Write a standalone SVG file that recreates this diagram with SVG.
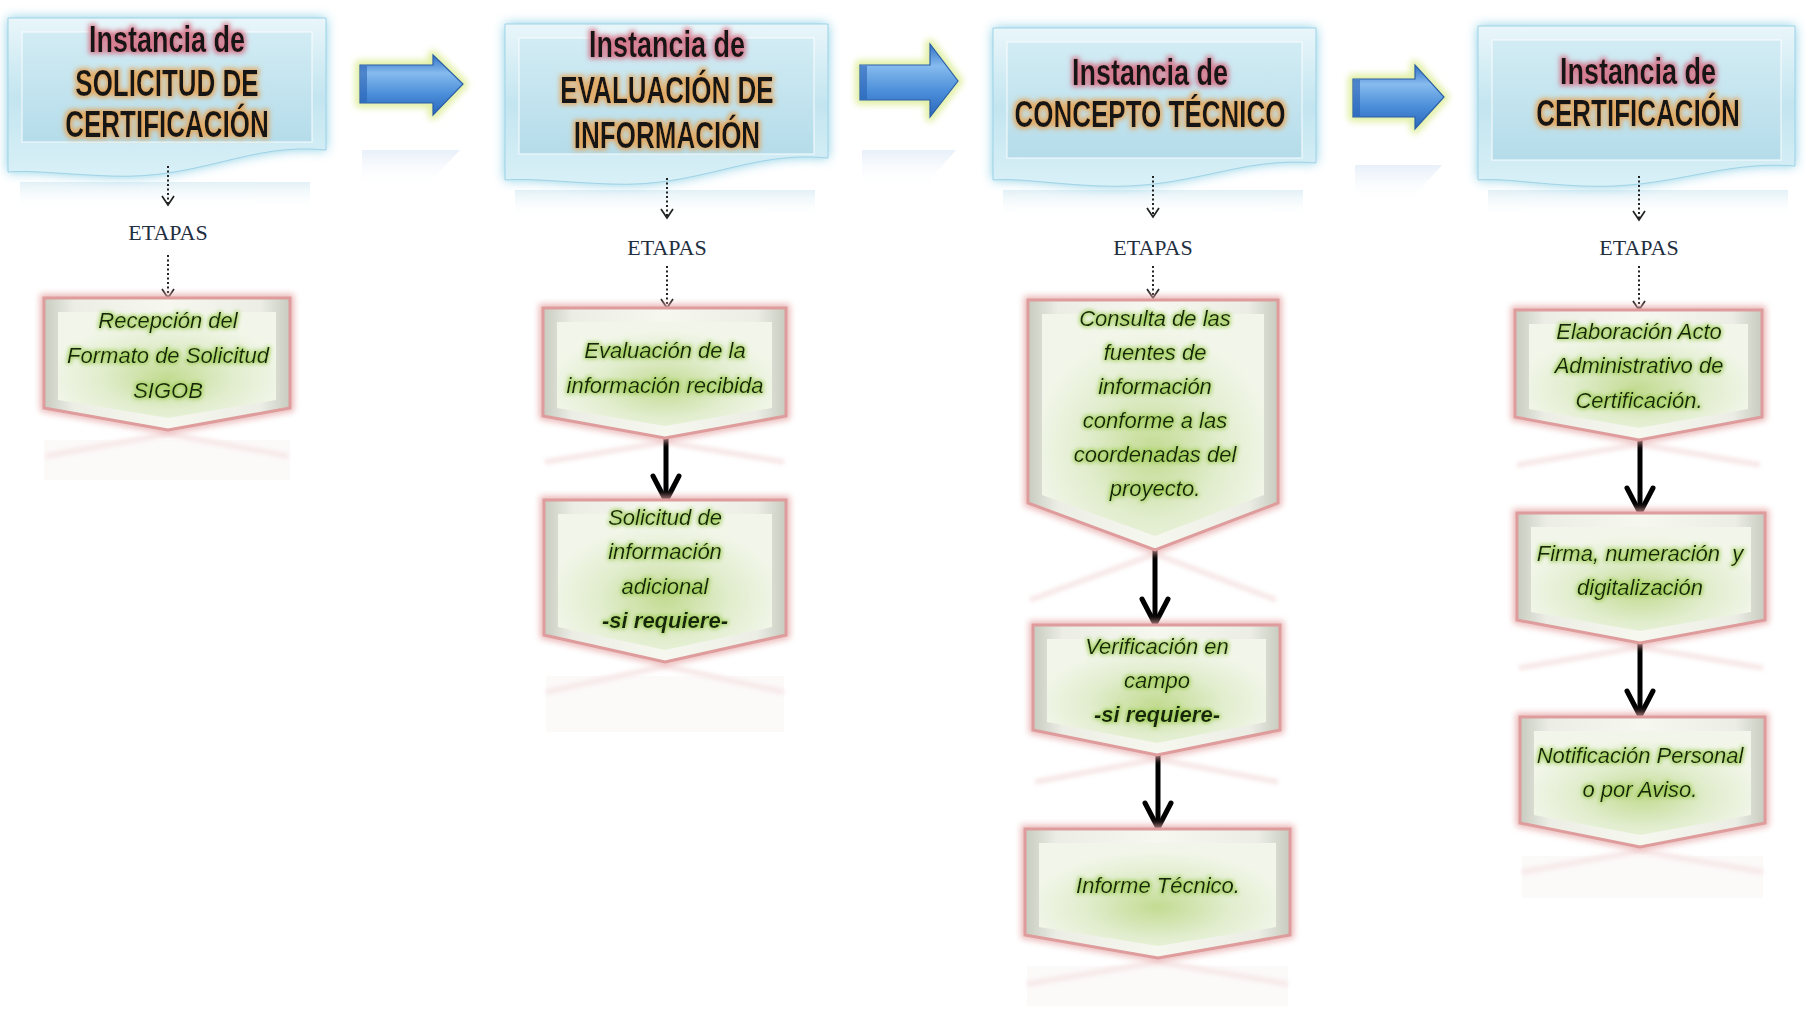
<svg xmlns="http://www.w3.org/2000/svg" width="1806" height="1009" viewBox="0 0 1806 1009">
<style>
.ht{font-family:"Liberation Sans",Arial,sans-serif;font-weight:700;font-size:26px;fill:#141414;text-anchor:middle}
.ht1{font-size:27px}
.et{font-family:"Liberation Serif","Times New Roman",serif;font-size:22px;fill:#1f2f3f;text-anchor:middle}
.nt{font-family:"Liberation Sans",Arial,sans-serif;font-style:italic;font-size:22px;fill:#182608;text-anchor:middle}
.nb{font-weight:700}
.hglow{fill:#6cc3df;filter:url(#blur6);opacity:.85}
.hbody{fill:url(#hfill);stroke:#9fd3e6;stroke-width:1}
.hin{fill:url(#hinner);stroke:#ffffff;stroke-opacity:.6;stroke-width:1.5}
.aglow{fill:#eef6c0;stroke:#e2f0a6;stroke-width:10;stroke-linejoin:round;filter:url(#blur3)}
.abody{fill:url(#afill);stroke:#2b5fa8;stroke-width:1.2}
.nglow{fill:none;stroke:#e6a6a6;stroke-width:8;filter:url(#blur3);opacity:.8}
.nbody{fill:url(#nfill)}
.nin{fill:url(#ngreen)}
.nborder{fill:none;stroke:#de9c9c;stroke-width:3;stroke-linejoin:miter}
.refl{fill:none;stroke:#ecc4c4;stroke-width:5;opacity:.45;filter:url(#blur2)}
.dot{fill:none;stroke:#222;stroke-width:2;stroke-dasharray:2 2.5}
.dh{fill:none;stroke:#222;stroke-width:1.7}
.bl{fill:none;stroke:#000;stroke-width:5}
.bh{fill:none;stroke:#000;stroke-width:5;stroke-linecap:round;stroke-linejoin:round}
</style>
<defs>
<filter id="blur6" x="-20%" y="-30%" width="140%" height="160%"><feGaussianBlur stdDeviation="6"/></filter>
<filter id="blur3" x="-20%" y="-30%" width="140%" height="160%"><feGaussianBlur stdDeviation="3"/></filter>
<filter id="blur2" x="-20%" y="-30%" width="140%" height="160%"><feGaussianBlur stdDeviation="2"/></filter>
<filter id="tg" x="-10%" y="-40%" width="120%" height="180%">
<feMorphology in="SourceAlpha" operator="dilate" radius="1" result="d"/>
<feGaussianBlur in="d" stdDeviation="2" result="b"/>
<feFlood flood-color="#9ccc52" flood-opacity=".9"/>
<feComposite in2="b" operator="in" result="g"/>
<feMerge><feMergeNode in="g"/><feMergeNode in="SourceGraphic"/></feMerge>
</filter>
<filter id="to" x="-10%" y="-40%" width="120%" height="180%">
<feMorphology in="SourceAlpha" operator="dilate" radius="2" result="d"/>
<feGaussianBlur in="d" stdDeviation="2.5" result="b"/>
<feFlood flood-color="#e6a455" flood-opacity=".9"/>
<feComposite in2="b" operator="in" result="g"/>
<feMerge><feMergeNode in="g"/><feMergeNode in="SourceGraphic"/></feMerge>
</filter>
<filter id="tp" x="-10%" y="-40%" width="120%" height="180%">
<feMorphology in="SourceAlpha" operator="dilate" radius="2" result="d"/>
<feGaussianBlur in="d" stdDeviation="2.5" result="b"/>
<feFlood flood-color="#d6687e" flood-opacity=".85"/>
<feComposite in2="b" operator="in" result="g"/>
<feMerge><feMergeNode in="g"/><feMergeNode in="SourceGraphic"/></feMerge>
</filter>
<linearGradient id="hfill" x1="0" y1="0" x2="0" y2="1">
<stop offset="0" stop-color="#e9f6fa"/><stop offset=".5" stop-color="#c3e5f0"/><stop offset="1" stop-color="#d9f0f7"/>
</linearGradient>
<linearGradient id="hinner" x1="0" y1="0" x2="0" y2="1">
<stop offset="0" stop-color="#d2ecf4"/><stop offset="1" stop-color="#b5dcea"/>
</linearGradient>
<linearGradient id="afill" x1="0" y1="0" x2="0" y2="1">
<stop offset="0" stop-color="#2f70c4"/><stop offset=".3" stop-color="#86bbee"/><stop offset=".65" stop-color="#4b8ed9"/><stop offset="1" stop-color="#2a66bb"/>
</linearGradient>
<linearGradient id="arefl" x1="0" y1="0" x2="0" y2="1">
<stop offset="0" stop-color="#9dbde6" stop-opacity=".3"/><stop offset="1" stop-color="#ffffff" stop-opacity="0"/>
</linearGradient>
<linearGradient id="hrefl" x1="0" y1="0" x2="0" y2="1">
<stop offset="0" stop-color="#b8dcea" stop-opacity=".5"/><stop offset="1" stop-color="#ffffff" stop-opacity="0"/>
</linearGradient>
<linearGradient id="nfill" x1="0" y1="0" x2="1" y2="0">
<stop offset="0" stop-color="#c8cbbf"/><stop offset=".12" stop-color="#eceee6"/><stop offset=".5" stop-color="#f6f8f0"/><stop offset=".88" stop-color="#eceee6"/><stop offset="1" stop-color="#c8cbbf"/>
</linearGradient>
<radialGradient id="ngreen" cx=".5" cy=".62" r=".55">
<stop offset="0" stop-color="#c3db92"/><stop offset=".55" stop-color="#e1edcd"/><stop offset="1" stop-color="#f2f6ea"/>
</radialGradient>
</defs>
<rect width="1806" height="1009" fill="#ffffff"/>

<g id="reflections" opacity=".8">
<rect x="20" y="182" width="290" height="28" fill="url(#hrefl)"/>
<rect x="515" y="190" width="300" height="28" fill="url(#hrefl)"/>
<rect x="1003" y="190" width="300" height="28" fill="url(#hrefl)"/>
<rect x="1488" y="190" width="300" height="28" fill="url(#hrefl)"/>
<path d="M362 150 H432 L460 150 L432 180 V188 H362 Z" fill="url(#arefl)"/>
<path d="M862 150 H930 L956 150 L930 180 V188 H862 Z" fill="url(#arefl)"/>
<path d="M1355 165 H1415 L1442 165 L1415 195 V203 H1355 Z" fill="url(#arefl)"/>
</g>

<g id="h1">
<path class="hglow" d="M8 18 H326 V150 C250 142 200 180 110 176 C60 174 30 170 8 172 Z"/>
<path class="hbody" d="M8 18 H326 V150 C250 142 200 180 110 176 C60 174 30 170 8 172 Z"/>
<rect class="hin" x="22" y="32" width="290" height="110"/>
<g filter="url(#tp)"><text class="ht ht1" transform="translate(167 52) scale(1 1.4)">Instancia de</text></g>
<g filter="url(#to)">
<text class="ht" transform="translate(167 96) scale(1 1.4)">SOLICITUD DE</text>
<text class="ht" transform="translate(167 137) scale(1 1.4)">CERTIFICACIÓN</text>
</g>
</g>

<g id="h2">
<path class="hglow" d="M505 24 H828 V158 C750 150 700 188 610 184 C560 182 530 178 505 180 Z"/>
<path class="hbody" d="M505 24 H828 V158 C750 150 700 188 610 184 C560 182 530 178 505 180 Z"/>
<rect class="hin" x="519" y="38" width="295" height="116"/>
<g filter="url(#tp)"><text class="ht ht1" transform="translate(667 57) scale(1 1.4)">Instancia de</text></g>
<g filter="url(#to)">
<text class="ht" transform="translate(667 103) scale(1 1.4)">EVALUACIÓN DE</text>
<text class="ht" transform="translate(667 148) scale(1 1.4)">INFORMACIÓN</text>
</g>
</g>

<g id="h3">
<path class="hglow" d="M993 28 H1316 V163 C1240 156 1190 190 1100 186 C1050 184 1020 178 993 180 Z"/>
<path class="hbody" d="M993 28 H1316 V163 C1240 156 1190 190 1100 186 C1050 184 1020 178 993 180 Z"/>
<rect class="hin" x="1007" y="42" width="295" height="116"/>
<g filter="url(#tp)"><text class="ht ht1" transform="translate(1150 85) scale(1 1.4)">Instancia de</text></g>
<g filter="url(#to)"><text class="ht" transform="translate(1150 127) scale(1 1.4)">CONCEPTO TÉCNICO</text></g>
</g>

<g id="h4">
<path class="hglow" d="M1478 26 H1795 V166 C1720 160 1670 190 1582 186 C1535 184 1505 178 1478 180 Z"/>
<path class="hbody" d="M1478 26 H1795 V166 C1720 160 1670 190 1582 186 C1535 184 1505 178 1478 180 Z"/>
<rect class="hin" x="1492" y="40" width="289" height="120"/>
<g filter="url(#tp)"><text class="ht ht1" transform="translate(1638 84) scale(1 1.4)">Instancia de</text></g>
<g filter="url(#to)"><text class="ht" transform="translate(1638 126) scale(1 1.4)">CERTIFICACIÓN</text></g>
</g>

<g id="arrow1">
<path class="aglow" d="M360 65 H433 V55 L463 84 L433 115 V103 H360 Z"/>
<path class="abody" d="M360 65 H433 V55 L463 84 L433 115 V103 H360 Z"/>
<rect x="361" y="66" width="6" height="36" fill="#2a63b5" opacity=".6"/>
</g>
<g id="arrow2">
<path class="aglow" d="M860 65 H930 V44 L958 81 L930 117 V100 H860 Z"/>
<path class="abody" d="M860 65 H930 V44 L958 81 L930 117 V100 H860 Z"/>
<rect x="861" y="66" width="6" height="33" fill="#2a63b5" opacity=".6"/>
</g>
<g id="arrow3">
<path class="aglow" d="M1353 79 H1415 V65 L1444 97 L1415 129 V117 H1353 Z"/>
<path class="abody" d="M1353 79 H1415 V65 L1444 97 L1415 129 V117 H1353 Z"/>
<rect x="1354" y="80" width="6" height="36" fill="#2a63b5" opacity=".6"/>
</g>

<g id="node-reflections">
<path class="refl" d="M46 456 L168 434 L288 456"/>
<rect x="44" y="440" width="246" height="40" fill="#f6eeee" opacity=".35"/>
<path class="refl" d="M545 462 L665 442 L784 462"/>
<path class="refl" d="M546 692 L665 666 L784 692"/>
<rect x="546" y="676" width="238" height="56" fill="#f6eeee" opacity=".35"/>
<path class="refl" d="M1030 600 L1155 554 L1276 600"/>
<path class="refl" d="M1035 782 L1157 759 L1278 782"/>
<path class="refl" d="M1027 984 L1158 962 L1288 984"/>
<rect x="1027" y="966" width="261" height="40" fill="#f6eeee" opacity=".35"/>
<path class="refl" d="M1517 465 L1639 444 L1760 465"/>
<path class="refl" d="M1519 668 L1640 647 L1763 668"/>
<path class="refl" d="M1522 872 L1640 851 L1763 872"/>
<rect x="1522" y="856" width="241" height="42" fill="#f6eeee" opacity=".35"/>
</g>

<g id="connectors">
<line class="dot" x1="168" y1="166" x2="168" y2="204"/><path class="dh" d="M162 196 L168 205 L174 196"/>
<line class="dot" x1="168" y1="255" x2="168" y2="297"/><path class="dh" d="M162 289 L168 298 L174 289"/>
<line class="dot" x1="667" y1="178" x2="667" y2="217"/><path class="dh" d="M661 209 L667 218 L673 209"/>
<line class="dot" x1="667" y1="266" x2="667" y2="307"/><path class="dh" d="M661 299 L667 308 L673 299"/>
<line class="dot" x1="1153" y1="176" x2="1153" y2="216"/><path class="dh" d="M1147 208 L1153 217 L1159 208"/>
<line class="dot" x1="1153" y1="266" x2="1153" y2="297"/><path class="dh" d="M1147 289 L1153 298 L1159 289"/>
<line class="dot" x1="1639" y1="176" x2="1639" y2="219"/><path class="dh" d="M1633 211 L1639 220 L1645 211"/>
<line class="dot" x1="1639" y1="266" x2="1639" y2="309"/><path class="dh" d="M1633 301 L1639 310 L1645 301"/>
<line class="bl" x1="666" y1="438" x2="666" y2="500"/><path class="bh" d="M653 476 L666 501 L679 476"/>
<line class="bl" x1="1155" y1="550" x2="1155" y2="622"/><path class="bh" d="M1142 599 L1155 624 L1168 599"/>
<line class="bl" x1="1158" y1="755" x2="1158" y2="826"/><path class="bh" d="M1145 803 L1158 828 L1171 803"/>
<line class="bl" x1="1640" y1="440" x2="1640" y2="511"/><path class="bh" d="M1627 488 L1640 513 L1653 488"/>
<line class="bl" x1="1640" y1="643" x2="1640" y2="714"/><path class="bh" d="M1627 691 L1640 716 L1653 691"/>
</g>

<g id="etapas">
<text class="et" x="168" y="240">ETAPAS</text>
<text class="et" x="667" y="255">ETAPAS</text>
<text class="et" x="1153" y="255">ETAPAS</text>
<text class="et" x="1639" y="255">ETAPAS</text>
</g>

<g id="n1">
<path class="nglow" d="M44 298 H290 V408 L168 430 L44 408 Z"/>
<path class="nbody" d="M44 298 H290 V408 L168 430 L44 408 Z"/>
<path class="nin" d="M58 312 H276 V400 L168 418 L58 400 Z"/>
<path class="nborder" d="M44 298 H290 V408 L168 430 L44 408 Z"/>
<g filter="url(#tg)">
<text class="nt" x="168" y="328">Recepción del</text>
<text class="nt" x="168" y="363">Formato de Solicitud</text>
<text class="nt" x="168" y="398">SIGOB</text>
</g>
</g>

<g id="n2a">
<path class="nglow" d="M543 308 H786 V416 L665 438 L543 416 Z"/>
<path class="nbody" d="M543 308 H786 V416 L665 438 L543 416 Z"/>
<path class="nin" d="M557 322 H772 V408 L665 426 L557 408 Z"/>
<path class="nborder" d="M543 308 H786 V416 L665 438 L543 416 Z"/>
<g filter="url(#tg)">
<text class="nt" x="665" y="358">Evaluación de la</text>
<text class="nt" x="665" y="393">información recibida</text>
</g>
</g>

<g id="n2b">
<path class="nglow" d="M544 500 H786 V635 L665 662 L544 635 Z"/>
<path class="nbody" d="M544 500 H786 V635 L665 662 L544 635 Z"/>
<path class="nin" d="M558 514 H772 V627 L665 650 L558 627 Z"/>
<path class="nborder" d="M544 500 H786 V635 L665 662 L544 635 Z"/>
<g filter="url(#tg)">
<text class="nt" x="665" y="525">Solicitud de</text>
<text class="nt" x="665" y="559">información</text>
<text class="nt" x="665" y="594">adicional</text>
<text class="nt nb" x="665" y="628">-si requiere-</text>
</g>
</g>

<g id="n3a">
<path class="nglow" d="M1028 300 H1278 V503 L1155 550 L1028 503 Z"/>
<path class="nbody" d="M1028 300 H1278 V503 L1155 550 L1028 503 Z"/>
<path class="nin" d="M1042 314 H1264 V495 L1155 536 L1042 495 Z"/>
<path class="nborder" d="M1028 300 H1278 V503 L1155 550 L1028 503 Z"/>
<g filter="url(#tg)">
<text class="nt" x="1155" y="326">Consulta de las</text>
<text class="nt" x="1155" y="360">fuentes de</text>
<text class="nt" x="1155" y="394">información</text>
<text class="nt" x="1155" y="428">conforme a las</text>
<text class="nt" x="1155" y="462">coordenadas del</text>
<text class="nt" x="1155" y="496">proyecto.</text>
</g>
</g>

<g id="n3b">
<path class="nglow" d="M1033 625 H1280 V730 L1157 755 L1033 730 Z"/>
<path class="nbody" d="M1033 625 H1280 V730 L1157 755 L1033 730 Z"/>
<path class="nin" d="M1047 639 H1266 V722 L1157 743 L1047 722 Z"/>
<path class="nborder" d="M1033 625 H1280 V730 L1157 755 L1033 730 Z"/>
<g filter="url(#tg)">
<text class="nt" x="1157" y="654">Verificación en</text>
<text class="nt" x="1157" y="688">campo</text>
<text class="nt nb" x="1157" y="722">-si requiere-</text>
</g>
</g>

<g id="n3c">
<path class="nglow" d="M1025 829 H1290 V935 L1158 958 L1025 935 Z"/>
<path class="nbody" d="M1025 829 H1290 V935 L1158 958 L1025 935 Z"/>
<path class="nin" d="M1039 843 H1276 V927 L1158 946 L1039 927 Z"/>
<path class="nborder" d="M1025 829 H1290 V935 L1158 958 L1025 935 Z"/>
<g filter="url(#tg)">
<text class="nt" x="1158" y="893">Informe Técnico.</text>
</g>
</g>

<g id="n4a">
<path class="nglow" d="M1515 310 H1762 V417 L1639 440 L1515 417 Z"/>
<path class="nbody" d="M1515 310 H1762 V417 L1639 440 L1515 417 Z"/>
<path class="nin" d="M1529 324 H1748 V409 L1639 428 L1529 409 Z"/>
<path class="nborder" d="M1515 310 H1762 V417 L1639 440 L1515 417 Z"/>
<g filter="url(#tg)">
<text class="nt" x="1639" y="339">Elaboración Acto</text>
<text class="nt" x="1639" y="373">Administrativo de</text>
<text class="nt" x="1639" y="408">Certificación.</text>
</g>
</g>

<g id="n4b">
<path class="nglow" d="M1517 513 H1765 V620 L1640 643 L1517 620 Z"/>
<path class="nbody" d="M1517 513 H1765 V620 L1640 643 L1517 620 Z"/>
<path class="nin" d="M1531 527 H1751 V612 L1640 631 L1531 612 Z"/>
<path class="nborder" d="M1517 513 H1765 V620 L1640 643 L1517 620 Z"/>
<g filter="url(#tg)">
<text class="nt" x="1640" y="561" xml:space="preserve">Firma, numeración  y</text>
<text class="nt" x="1640" y="595">digitalización</text>
</g>
</g>

<g id="n4c">
<path class="nglow" d="M1520 717 H1765 V823 L1640 847 L1520 823 Z"/>
<path class="nbody" d="M1520 717 H1765 V823 L1640 847 L1520 823 Z"/>
<path class="nin" d="M1534 731 H1751 V815 L1640 835 L1534 815 Z"/>
<path class="nborder" d="M1520 717 H1765 V823 L1640 847 L1520 823 Z"/>
<g filter="url(#tg)">
<text class="nt" x="1640" y="763">Notificación Personal</text>
<text class="nt" x="1640" y="797">o por Aviso.</text>
</g>
</g>
</svg>
